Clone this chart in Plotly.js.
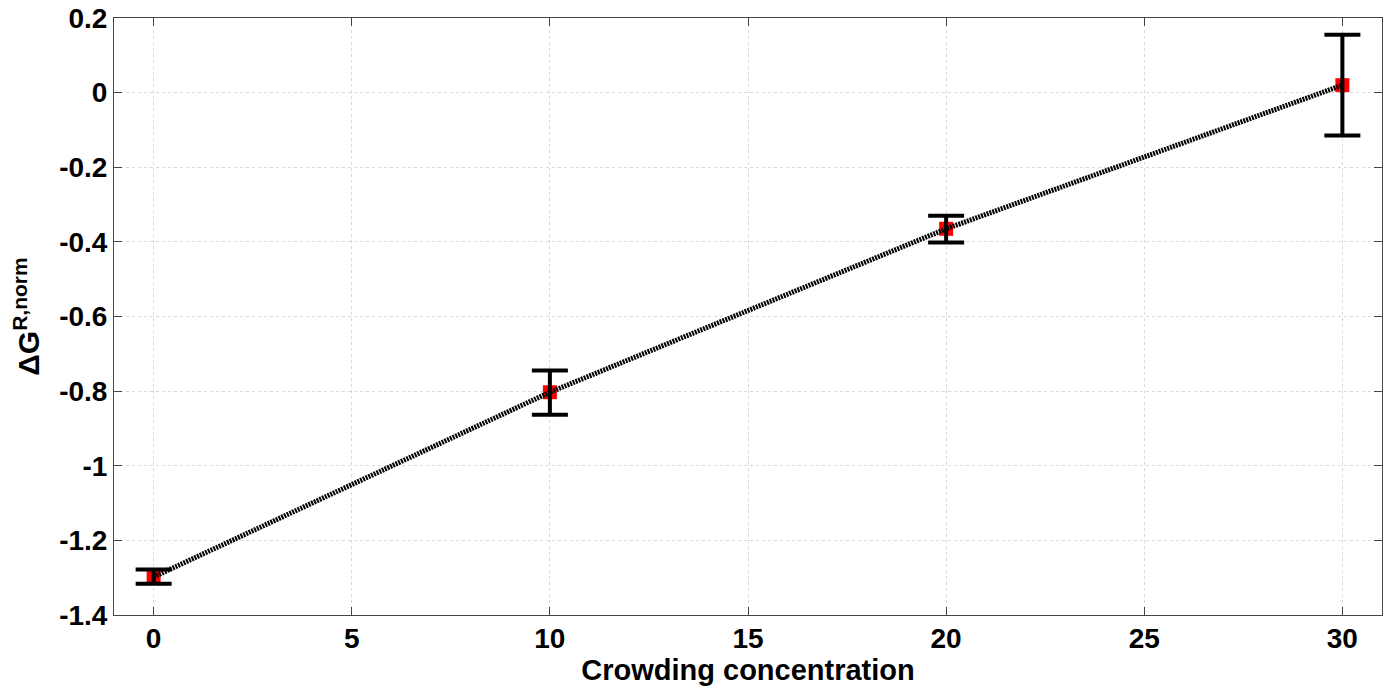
<!DOCTYPE html>
<html><head><meta charset="utf-8">
<script src="https://cdn.plot.ly/plotly-3.0.1.min.js"></script>
<style>body{margin:0;background:#fff}#g{width:1386px;height:686px}</style>
</head><body><div id="g"></div>
<script>
const concentration = [0, 10, 20, 30];
const dG = [-1.298, -0.803, -0.365, 0.020];
const errPlus = [0.020, 0.058, 0.035, 0.135];
const errMinus = [0.018, 0.060, 0.037, 0.135];
const yTicks = [0.2, 0, -0.2, -0.4, -0.6, -0.8, -1, -1.2, -1.4];
const yTickText = ['0.2', '0', '-0.2', '-0.4', '-0.6', '-0.8', '-1', '-1.2', '-1.4'];
const xTicks = [0, 5, 10, 15, 20, 25, 30];

const fam = 'Liberation Sans, Arial, sans-serif';
const traces = [
  {x: concentration, y: dG, mode: 'markers', type: 'scatter',
   marker: {color: '#ff0000', size: 14, symbol: 'square'}},
  {x: concentration, y: dG, mode: 'lines', type: 'scatter',
   line: {color: '#000', width: 5, dash: '2px,1px'},
   error_y: {type: 'data', symmetric: false, array: errPlus, arrayminus: errMinus,
             color: '#000', thickness: 4, width: 18}}
];
const axisCommon = {showline: true, linecolor: '#444', linewidth: 1, mirror: 'ticks',
  ticks: 'inside', ticklen: 8, tickcolor: '#444', showgrid: true,
  gridcolor: '#d9d9d9', griddash: 'dot', zeroline: false,
  tickfont: {family: fam, size: 28, color: '#000', weight: 'bold'}};
const layout = {
  width: 1386, height: 686, showlegend: false,
  paper_bgcolor: '#fff', plot_bgcolor: '#fff',
  margin: {l: 114, r: 4, t: 18, b: 71},
  xaxis: Object.assign({}, axisCommon, {range: [-1, 31], tickvals: xTicks, ticklabelstandoff: -2,
    title: {text: '<b>Crowding concentration</b>', font: {family: fam, size: 29, color: '#000'}, standoff: 0}}),
  yaxis: Object.assign({}, axisCommon, {range: [-1.4, 0.2], tickvals: yTicks, ticktext: yTickText,
    title: {text: '<b>ΔG<sup>R,norm</sup></b>', font: {family: fam, size: 30, color: '#000'}, standoff: 10}})
};
Plotly.newPlot('g', traces, layout, {displayModeBar: false, staticPlot: true});
</script></body></html>
